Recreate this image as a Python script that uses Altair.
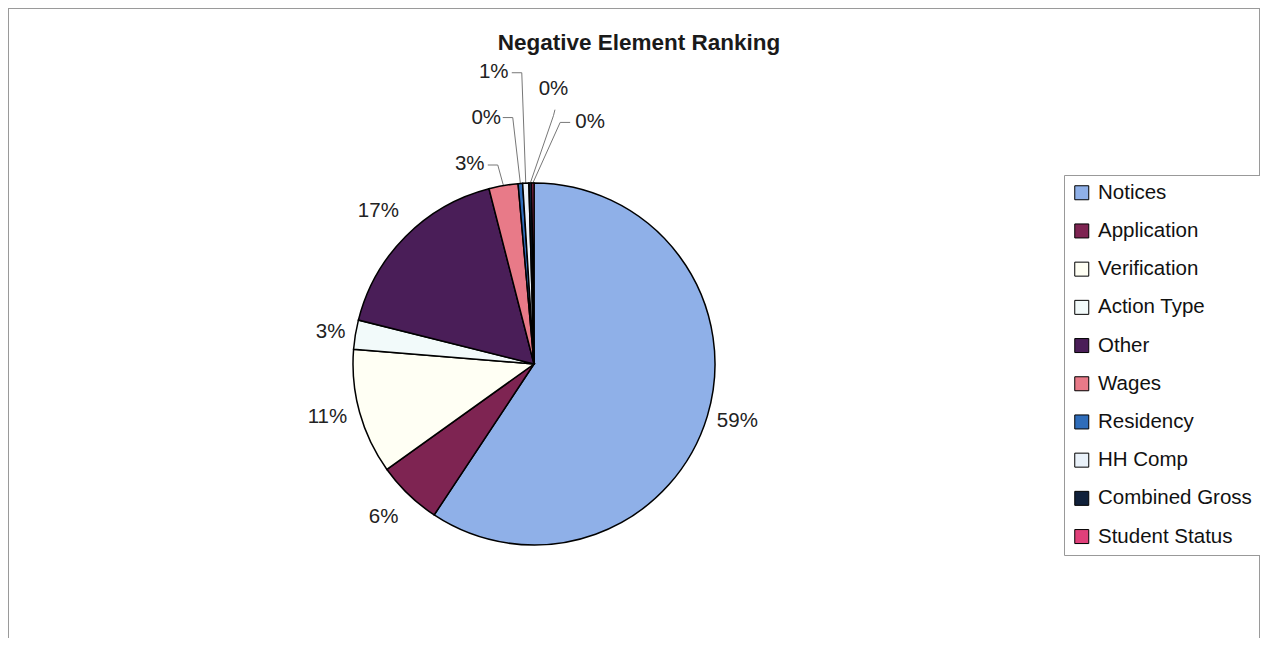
import math
import altair as alt
import pandas as pd

# ---- data ----
categories = ["Notices", "Application", "Verification", "Action Type", "Other",
              "Wages", "Residency", "HH Comp", "Combined Gross", "Student Status"]
values = [59.3, 5.8, 11.2, 2.6, 17.1, 2.6, 0.4, 0.55, 0.25, 0.2]
colors = ["#8FB0E8", "#7E2452", "#FFFFF4", "#F2FAFA", "#4A1E58",
          "#E87A88", "#2F6DBA", "#EAF2FA", "#10203A", "#E0407A"]

# ---- label layout (Excel's dragged label positions: radius px, angle shift deg) ----
label_radius = [211, 214, 213, 206, 219, 211, 252, 296, 277, 249]
label_shift = [-1.3, 0.7, 1.4, -0.2, -0.1, -8.0, -6.6, -5.2, 5.2, 13.4]
leader_start = {"Wages": (18, 2), "Residency": (16.5, 1), "HH Comp": (18, 2),
                "Combined Gross": (1.5, 22), "Student Status": (-20, 1)}
leader_elbow = {"Wages": (28, 2), "Residency": (26.5, 1), "HH Comp": (28, 2),
                "Combined Gross": (0, 28), "Student Status": (-30, 1)}

W, H = 1252, 630
CX, CY, R = 526, 356, 181
FONT = "Liberation Sans"
FS = 20.5
CAP_MID = 7  # distance from baseline to middle of digits

df = pd.DataFrame({"category": categories, "value": values, "idx": range(len(categories))})

total = sum(values)
cum = 0.0
lab_rows, lead_rows = [], []
for i, (c, v) in enumerate(zip(categories, values)):
    mid = (cum + v / 2) / total * 360.0
    cum += v
    a = math.radians(mid + label_shift[i])
    ax = CX + label_radius[i] * math.sin(a)
    ay = CY - label_radius[i] * math.cos(a)
    lab_rows.append({"category": c, "lx": ax, "ly": ay + CAP_MID, "txt": f"{int(v + 0.5)}%"})
    if c in leader_start:
        am = math.radians(mid)
        pts = [(ax + leader_start[c][0], ay + leader_start[c][1]),
               (ax + leader_elbow[c][0], ay + leader_elbow[c][1]),
               (CX + R * math.sin(am), CY - R * math.cos(am))]
        for k, (px, py) in enumerate(pts):
            lead_rows.append({"category": c, "k": k, "lx": px, "ly": py})

labels = pd.DataFrame(lab_rows)
leaders = pd.DataFrame(lead_rows)

xs = alt.Scale(domain=[0, W], range=[0, W], nice=False, zero=False)
ys = alt.Scale(domain=[0, H], range=[0, H], nice=False, zero=False)

pie = alt.Chart(df).mark_arc(outerRadius=R, stroke="black", strokeWidth=1.5).encode(
    theta=alt.Theta("value:Q", stack=True),
    color=alt.Color(
        "category:N",
        scale=alt.Scale(domain=categories, range=colors),
        sort=categories,
        legend=alt.Legend(
            title=None, orient="none", legendX=1056, legendY=167,
            symbolType="square", symbolSize=196, symbolStrokeColor="black",
            symbolStrokeWidth=1, symbolOpacity=1,
            labelFontSize=FS, labelFont=FONT, labelColor="#111111",
            labelOffset=6, rowPadding=17.2, padding=7.5,
            strokeColor="#999999", fillColor="white", labelLimit=300,
        ),
    ),
    order=alt.Order("idx:Q"),
    x=alt.value(CX),
    y=alt.value(CY),
)

text = alt.Chart(labels).mark_text(fontSize=FS, font=FONT, color="#222222",
                                   align="center", baseline="alphabetic").encode(
    x=alt.X("lx:Q", scale=xs, axis=None),
    y=alt.Y("ly:Q", scale=ys, axis=None),
    text="txt:N",
)

lead = alt.Chart(leaders).mark_line(color="#777777", strokeWidth=1).encode(
    x=alt.X("lx:Q", scale=xs, axis=None),
    y=alt.Y("ly:Q", scale=ys, axis=None),
    detail="category:N",
    order="k:Q",
)

title = alt.Chart(pd.DataFrame({"t": ["Negative Element Ranking"]})).mark_text(
    fontSize=22.5, fontWeight="bold", font=FONT, color="#1a1a1a",
    align="center", baseline="alphabetic").encode(
    x=alt.value(631), y=alt.value(42), text="t:N")

frame_df = pd.DataFrame({"a": [0]})
frame_left = alt.Chart(frame_df).mark_rule(color="#9a9a9a", strokeWidth=1).encode(
    x=alt.value(0.5), y=alt.value(0), y2=alt.value(H))
frame_right = alt.Chart(frame_df).mark_rule(color="#9a9a9a", strokeWidth=1).encode(
    x=alt.value(W - 0.5), y=alt.value(0), y2=alt.value(H))
frame_top = alt.Chart(frame_df).mark_rule(color="#9a9a9a", strokeWidth=1).encode(
    x=alt.value(0), x2=alt.value(W), y=alt.value(0.5))

chart = alt.layer(lead, pie, text, title, frame_left, frame_right, frame_top).properties(
    width=W, height=H, autosize=alt.AutoSizeParams(type="none"), padding=0,
    background="white",
).configure_view(stroke=None)

chart.save("out.html", embed_options={"renderer": "svg", "actions": False})
